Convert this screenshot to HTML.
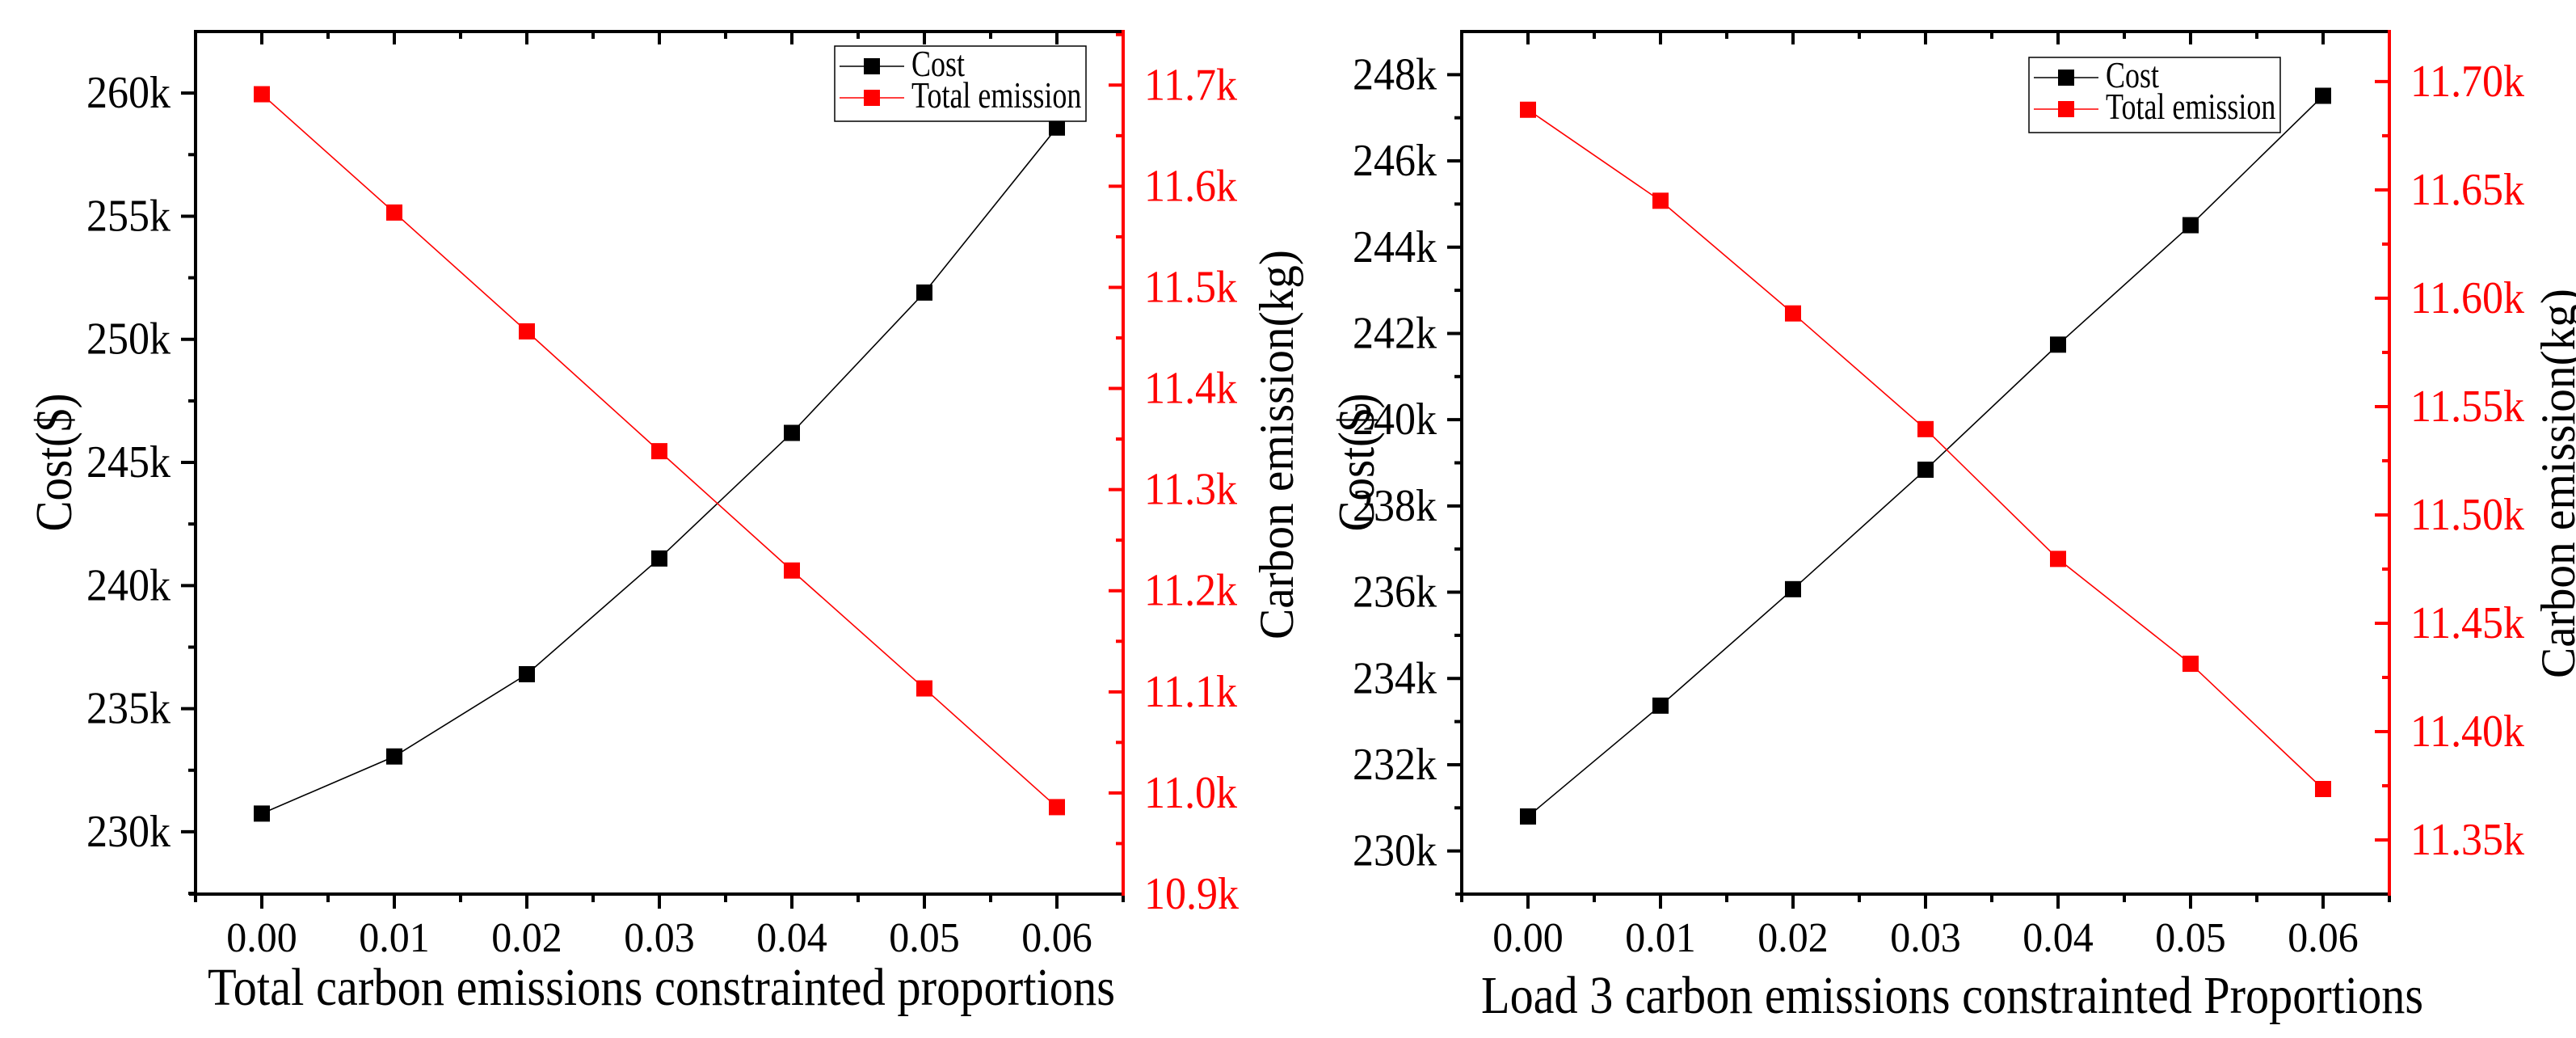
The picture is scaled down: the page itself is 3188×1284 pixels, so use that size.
<!DOCTYPE html>
<html><head><meta charset="utf-8">
<style>
html,body{margin:0;padding:0;background:#fff;}
svg{display:block;}
svg text{font-family:"Liberation Serif","Times New Roman",serif;}
</style></head>
<body>
<svg id="chart" width="3188" height="1284" viewBox="0 0 3188 1284" xmlns="http://www.w3.org/2000/svg"></svg>
<script>
// ---- data ----
const xCategories = [0.00, 0.01, 0.02, 0.03, 0.04, 0.05, 0.06];
const xTickLabels = ["0.00","0.01","0.02","0.03","0.04","0.05","0.06"];
const costTotal = [230.74, 233.06, 236.4, 241.1, 246.2, 251.9, 258.6];
const emissionTotal = [11.691, 11.574, 11.4565, 11.338, 11.220, 11.1034, 10.986];
const costLoad3 = [230.8, 233.37, 236.07, 238.84, 241.74, 244.51, 247.51];
const emissionLoad3 = [11.687, 11.645, 11.593, 11.5396, 11.4797, 11.4313, 11.3735];
const leftTicksTotal = [230,235,240,245,250,255,260];
const rightTicksTotal = [10.9,11.0,11.1,11.2,11.3,11.4,11.5,11.6,11.7];
const leftTicksLoad3 = [230,232,234,236,238,240,242,244,246,248];
const rightTicksLoad3 = [11.35,11.40,11.45,11.50,11.55,11.60,11.65,11.70];

const NS = "http://www.w3.org/2000/svg";
const FONT = '"Liberation Serif", "Times New Roman", serif';
const svg = document.getElementById("chart");
function mk(tag, attrs, parent){
  const e = document.createElementNS(NS, tag);
  for (const k in attrs) e.setAttribute(k, attrs[k]);
  if (tag === "text") e.setAttribute("font-family", FONT);
  (parent||svg).appendChild(e);
  return e;
}
function txt(parent, x, y, s, size, fill, anchor, sy){
  const t = mk("text", {transform:`translate(${x},${y}) scale(1,${sy||1.07})`, "font-size":size, fill:fill, "text-anchor":anchor||"start"}, parent);
  t.textContent = s;
  return t;
}

function panel(cfg){
  const g = mk("g", {});
  
  
  const {xL,xR,yT,yB} = cfg;
  const xs = v => xL + (v - cfg.xmin)/(cfg.xmax - cfg.xmin)*(xR-xL);
  const yl = v => yB - (v - cfg.lmin)/(cfg.lmax - cfg.lmin)*(yB-yT);
  const yr = v => yB - (v - cfg.rmin)/(cfg.rmax - cfg.rmin)*(yB-yT);

  xCategories.forEach((v,i)=>{
    const x = xs(v);
    mk("line",{x1:x,y1:yB,x2:x,y2:yB+18,stroke:"#000","stroke-width":4},g);
    mk("line",{x1:x,y1:yT,x2:x,y2:yT+16,stroke:"#000","stroke-width":4},g);
    const lab = txt(g, x, yB+71, xTickLabels[i], 50, "#000", "middle", 1.04);
    
    
  });
  for (let k=0;k<=7;k++){
    const x = xs(cfg.xmin + 0.01*k);
    mk("line",{x1:x,y1:yB,x2:x,y2:yB+10,stroke:"#000","stroke-width":4},g);
    mk("line",{x1:x,y1:yT,x2:x,y2:yT+9,stroke:"#000","stroke-width":4},g);
  }
  cfg.lticks.forEach(v=>{
    const y = yl(v);
    mk("line",{x1:xL-18,y1:y,x2:xL,y2:y,stroke:"#000","stroke-width":4},g);
    const m = yl(v + cfg.lstep/2);
    if (m > yT) mk("line",{x1:xL-9,y1:m,x2:xL,y2:m,stroke:"#000","stroke-width":4},g);
    const lab = txt(g, xL-31, y+18, v+"k", 52, "#000", "end");
    
    
  });
  { const m = yl(cfg.lticks[0]-cfg.lstep/2); if (m < yB) mk("line",{x1:xL-9,y1:m,x2:xL,y2:m,stroke:"#000","stroke-width":4},g); }
  cfg.rticks.forEach(v=>{
    const y = yr(v);
    mk("line",{x1:xR-18,y1:y,x2:xR,y2:y,stroke:"#f00","stroke-width":4},g);
    const m = yr(v + cfg.rstep/2);
    if (m > yT) mk("line",{x1:xR-9,y1:m,x2:xR,y2:m,stroke:"#f00","stroke-width":4},g);
    const lab = txt(g, xR+26, y+18, v.toFixed(cfg.rdec)+"k", 52, "#f00", "start");
    
    
  });
  { const m = yr(cfg.rticks[0]-cfg.rstep/2); if (m < yB-2) mk("line",{x1:xR-9,y1:m,x2:xR,y2:m,stroke:"#f00","stroke-width":4},g); }

  const top = mk("line",{x1:xL-2,y1:yT,x2:xR,y2:yT,stroke:"#000","stroke-width":4},g);
   
  const bot = mk("line",{x1:xL-8,y1:yB,x2:xR,y2:yB,stroke:"#000","stroke-width":4},g);
   
  const la = mk("line",{x1:xL,y1:yT-2,x2:xL,y2:yB+2,stroke:"#000","stroke-width":4},g);
   
  const ra = mk("line",{x1:xR,y1:yT-2,x2:xR,y2:yB+2,stroke:"#f00","stroke-width":4},g);
   

  const cPts = xCategories.map((v,i)=>xs(v)+","+yl(cfg.cost[i])).join(" ");
  const ePts = xCategories.map((v,i)=>xs(v)+","+yr(cfg.emis[i])).join(" ");
  const cl = mk("polyline",{points:cPts,fill:"none",stroke:"#000","stroke-width":1.6},g);
   
  const el = mk("polyline",{points:ePts,fill:"none",stroke:"#f00","stroke-width":1.6},g);
   
  xCategories.forEach((v,i)=>{
    const a = mk("rect",{x:xs(v)-10,y:yl(cfg.cost[i])-10,width:20,height:20,fill:"#000"},g);
     
    const b = mk("rect",{x:xs(v)-10,y:yr(cfg.emis[i])-10,width:20,height:20,fill:"#f00"},g);
     
  });

  const lg = mk("g",{},g);
   
  const bx = cfg.legX, by = cfg.legY;
  mk("rect",{x:bx,y:by,width:311,height:93,fill:"#fff",stroke:"#000","stroke-width":1.5},lg);
  [["Cost","#000",25],["Total emission","#f00",64]].forEach(([lab,col,dy])=>{
    const e = mk("g",{},lg);
     
    mk("line",{x1:bx+6,y1:by+dy,x2:bx+86,y2:by+dy,stroke:col,"stroke-width":1.5},e);
    mk("rect",{x:bx+36,y:by+dy-10,width:20,height:20,fill:col},e);
    txt(e, bx+95, by+dy+12, lab, 36, "#000", "start", 1.25);
  });

  const xt = mk("text",{x:cfg.xtX, y:cfg.xtY, "font-size":66, textLength:cfg.xtLen, lengthAdjust:"spacingAndGlyphs", fill:"#000"},g);
  xt.textContent = cfg.xtitle;
   
  const ylt = mk("text",{transform:`translate(${cfg.ylX},${cfg.ylY}) rotate(-90)`, "font-size":63, textLength:171, lengthAdjust:"spacingAndGlyphs", "text-anchor":"middle", fill:"#000"},g);
  ylt.textContent = "Cost($)";
   
  const yrt = mk("text",{transform:`translate(${cfg.yrX},${cfg.yrY}) rotate(-90)`, "font-size":60, textLength:482, lengthAdjust:"spacingAndGlyphs", "text-anchor":"middle", fill:"#000"},g);
  yrt.textContent = "Carbon emission(kg)";
   
}

panel({name:"total-emissions-panel", xL:242, xR:1390, yT:39, yB:1106, xmin:-0.005, xmax:0.065,
  lmin:227.47, lmax:262.5, lticks:leftTicksTotal, lstep:5,
  rmin:10.9, rmax:11.753, rticks:rightTicksTotal, rstep:0.1, rdec:1,
  cost:costTotal, emis:emissionTotal, legX:1033, legY:57,
  xtitle:"Total carbon emissions constrainted proportions", xtX:257, xtY:1243, xtLen:1123,
  ylX:88, ylY:572, yrX:1600, yrY:550});

panel({name:"load3-emissions-panel", xL:1809, xR:2957, yT:39, yB:1106, xmin:-0.005, xmax:0.065,
  lmin:229.0, lmax:249.0, lticks:leftTicksLoad3, lstep:2,
  rmin:11.325, rmax:11.7231, rticks:rightTicksLoad3, rstep:0.05, rdec:2,
  cost:costLoad3, emis:emissionLoad3, legX:2511, legY:71,
  xtitle:"Load 3 carbon emissions constrainted Proportions", xtX:1833, xtY:1253, xtLen:1166,
  ylX:1700, ylY:572, yrX:3186, yrY:598});
</script>
</body></html>
